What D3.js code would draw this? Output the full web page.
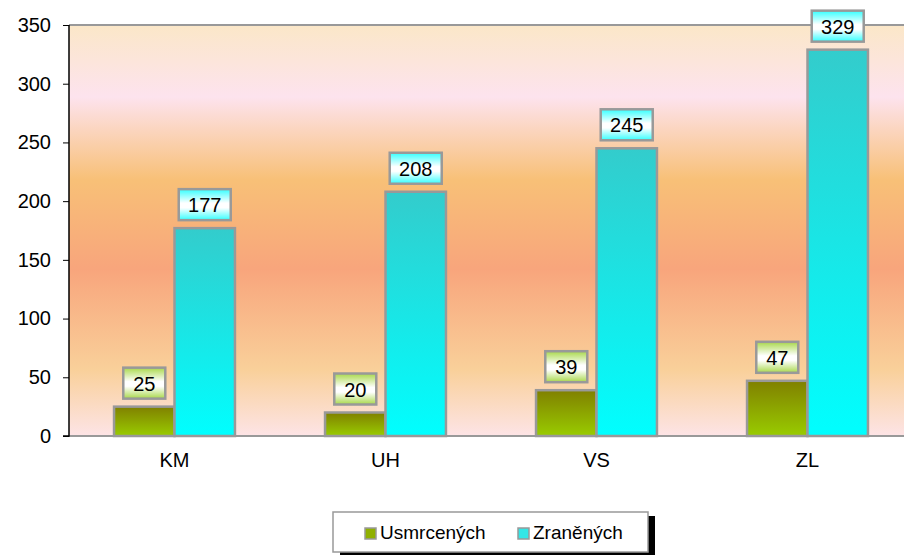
<!DOCTYPE html>
<html>
<head>
<meta charset="utf-8">
<script src="https://cdn.jsdelivr.net/npm/d3@7"></script>
<style>
  body { margin: 0; background: #fff; }
  text { font-family: "Liberation Sans", Arial, sans-serif; }
</style>
</head>
<body>
<script>
var categories = ["KM", "UH", "VS", "ZL"];
var seriesNames = ["Usmrcených", "Zraněných"];
var usmrcenych = [25, 20, 39, 47];
var zranenych = [177, 208, 245, 329];
var yTicks = [0, 50, 100, 150, 200, 250, 300, 350];

var width = 904, height = 555;
var plot = {left: 69, top: 25, right: 913, bottom: 436};

var svg = d3.select("body").append("svg")
    .attr("width", width)
    .attr("height", height);

var defs = svg.append("defs");

// plot background
var bg = defs.append("linearGradient").attr("id", "bg")
    .attr("x1", 0).attr("y1", 0).attr("x2", 0).attr("y2", 1);
[[0, "#fbe7c8"], [0.175, "#fde3ee"], [0.377, "#f8c077"], [0.594, "#f8a57c"], [0.839, "#f9d09a"], [1, "#fde4e6"]]
  .forEach(function(s) { bg.append("stop").attr("offset", s[0]).attr("stop-color", s[1]); });

function vgrad(id, stops) {
  var g = defs.append("linearGradient").attr("id", id)
      .attr("x1", 0).attr("y1", 0).attr("x2", 0).attr("y2", 1);
  stops.forEach(function(s) { g.append("stop").attr("offset", s[0]).attr("stop-color", s[1]); });
}
vgrad("barG", [[0, "#808000"], [1, "#99cc00"]]);
vgrad("barC", [[0, "#33cccc"], [1, "#00ffff"]]);
vgrad("labG", [[0, "#a8d84a"], [0.45, "#ffffff"], [0.6, "#ffffff"], [1, "#a8d84a"]]);
vgrad("labC", [[0, "#33ffff"], [0.45, "#ffffff"], [0.6, "#ffffff"], [1, "#33ffff"]]);

var x0 = d3.scaleBand().domain(categories).range([plot.left, plot.right])
    .paddingInner(0.427).paddingOuter(0.2135);
var x1 = d3.scaleBand().domain(seriesNames).range([0, x0.bandwidth()]);
var y = d3.scaleLinear().domain([0, 350]).range([plot.bottom, plot.top]);

svg.append("rect")
    .attr("x", plot.left).attr("y", plot.top)
    .attr("width", plot.right - plot.left).attr("height", plot.bottom - plot.top)
    .attr("fill", "url(#bg)");

// top border
svg.append("line")
    .attr("x1", plot.left).attr("x2", width)
    .attr("y1", plot.top).attr("y2", plot.top)
    .attr("stroke", "#999").attr("stroke-width", 2);

var data = [];
categories.forEach(function(c, i) {
  data.push({cat: c, s: seriesNames[0], v: usmrcenych[i], fill: "url(#barG)", lab: "url(#labG)"});
  data.push({cat: c, s: seriesNames[1], v: zranenych[i], fill: "url(#barC)", lab: "url(#labC)"});
});

svg.selectAll("rect.bar")
    .data(data)
    .enter().append("rect")
    .attr("class", "bar")
    .attr("x", function(d) { return x0(d.cat) + x1(d.s); })
    .attr("width", x1.bandwidth())
    .attr("y", function(d) { return y(d.v); })
    .attr("height", function(d) { return y(0) - y(d.v); })
    .attr("fill", function(d) { return d.fill; })
    .attr("stroke", "#999").attr("stroke-width", 2.5);

// bottom line
svg.append("line")
    .attr("x1", plot.left).attr("x2", width)
    .attr("y1", plot.bottom).attr("y2", plot.bottom)
    .attr("stroke", "#999").attr("stroke-width", 2);

// y axis
var yAxis = d3.axisLeft(y).tickValues(yTicks).tickSize(6).tickPadding(12);
var ga = svg.append("g")
    .attr("transform", "translate(" + plot.left + ",0)")
    .call(yAxis)
    .attr("font-family", null).attr("font-size", null);
ga.select(".domain").attr("stroke", "#000").attr("stroke-width", 1.5)
    .attr("d", "M0," + plot.top + "V" + plot.bottom + "H-6");
ga.selectAll(".tick line").attr("stroke", "#000");
ga.selectAll(".tick text").attr("font-size", 20).attr("fill", "#000");

// x labels
svg.selectAll("text.cat")
    .data(categories)
    .enter().append("text")
    .attr("class", "cat")
    .attr("x", function(d) { return x0(d) + x0.bandwidth() / 2; })
    .attr("y", 467)
    .attr("text-anchor", "middle")
    .attr("font-size", 20)
    .text(function(d) { return d; });

// value labels
var labs = svg.selectAll("g.lab")
    .data(data)
    .enter().append("g")
    .attr("class", "lab")
    .attr("transform", function(d) {
      return "translate(" + (x0(d.cat) + x1(d.s) + x1.bandwidth() / 2) + "," + (y(d.v) - 8) + ")";
    });
labs.append("rect")
    .attr("x", function(d) { return d.v >= 100 ? -26 : -21; })
    .attr("width", function(d) { return d.v >= 100 ? 52 : 42; })
    .attr("y", -31).attr("height", 31)
    .attr("fill", function(d) { return d.lab; })
    .attr("stroke", "#999").attr("stroke-width", 2.5);
labs.append("text")
    .attr("text-anchor", "middle")
    .attr("y", -8)
    .attr("font-size", 20)
    .text(function(d) { return d.v; });

// legend
var lg = svg.append("g").attr("transform", "translate(333,512)");
lg.append("rect").attr("x", 7).attr("y", 4).attr("width", 315).attr("height", 41).attr("fill", "#000");
lg.append("rect").attr("width", 315).attr("height", 40)
    .attr("fill", "#fff").attr("stroke", "#999").attr("stroke-width", 1.5);
var items = [
  {name: seriesNames[0], color: "#8fb000", x: 32},
  {name: seriesNames[1], color: "#33e6e6", x: 185}
];
var li = lg.selectAll("g.item").data(items).enter().append("g")
    .attr("transform", function(d) { return "translate(" + d.x + ",0)"; });
li.append("rect").attr("x", 0).attr("y", 16).attr("width", 11).attr("height", 11)
    .attr("fill", function(d) { return d.color; })
    .attr("stroke", "#999").attr("stroke-width", 1.5);
li.append("text").attr("x", 15).attr("y", 27).attr("font-size", 19)
    .text(function(d) { return d.name; });
</script>
</body>
</html>
